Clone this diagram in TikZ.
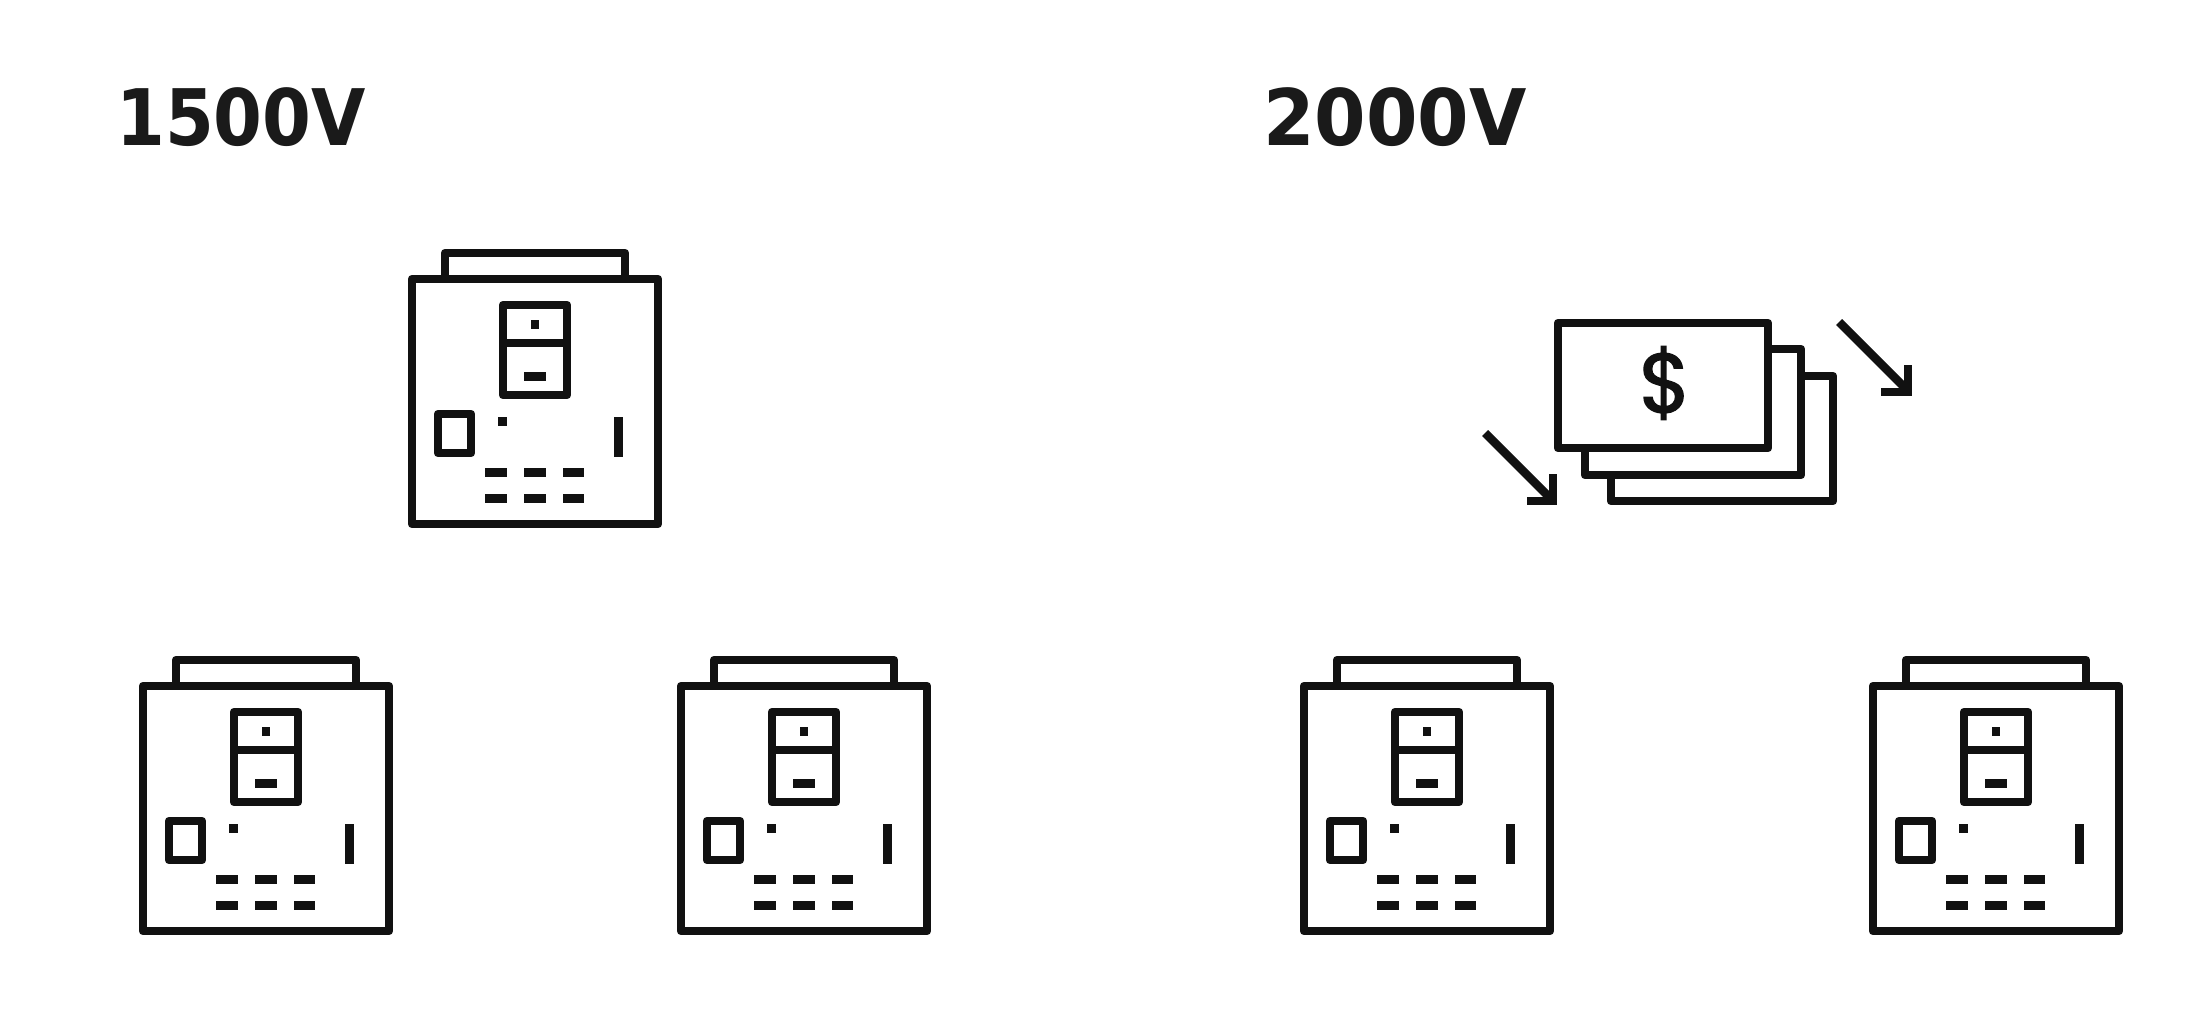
\documentclass[tikz,border=0pt]{standalone}
\usepackage{fontspec}
\setmainfont{DejaVu Sans}
\newfontfamily\dollarfont[FakeBold=1.6]{Poppins}
\definecolor{ink}{HTML}{1A1A1A}
\definecolor{iconink}{HTML}{111111}
\tikzset{
  x=1pt,y=-1pt,
  outline/.style={draw=iconink,line width=8.5pt,line join=round,fill=white},
  stroke/.style={draw=iconink,line width=8.5pt,line join=miter},
  solid block/.style={fill=iconink,draw=none},
  title/.style={inner sep=0pt,anchor=base west,text=ink,font=\fontsize{78}{78}\selectfont\bfseries},
  pics/charger/.style={code={
    \draw[outline] (33,0) -- (33,-26) -- (213,-26) -- (213,0);
    \draw[outline] (0,0) rectangle (246,245);
    \draw[outline] (91,26) rectangle (155,116);
    \draw[stroke] (91,64) -- (155,64);
    \fill[solid block] (119,41) rectangle (127,50);
    \fill[solid block] (112,93) rectangle (134,102);
    \draw[outline] (26,135) rectangle (59,174);
    \fill[solid block] (86,138) rectangle (95,147);
    \fill[solid block] (202,138) rectangle (211,178);
    \foreach \ya/\yb in {189/198,215/224}{
      \fill[solid block] (73,\ya) rectangle (95,\yb);
      \fill[solid block] (112,\ya) rectangle (134,\yb);
      \fill[solid block] (151,\ya) rectangle (172,\yb);
    }
  }}
}
\begin{document}
\begin{tikzpicture}
\useasboundingbox (0,0) rectangle (2200,1020);
\node[title,xscale=.90] (t1) at (116,145) {1500V};
\node[title,xscale=.95] (t2) at (1263,145) {2000V};
\pic at (412,279) {charger};
\pic at (143,686) {charger};
\pic at (681,686) {charger};
\pic at (1304,686) {charger};
\pic at (1873,686) {charger};
% money stack
\draw[outline] (1611,376) rectangle (1833,501);
\draw[outline] (1585,349) rectangle (1801,475);
\draw[outline] (1558,323) rectangle (1768,448);
\node[inner sep=0pt,text=iconink,font=\dollarfont\fontsize{84}{84}\selectfont] (dollar) at (1665,383) {\$};
% arrows
\coordinate (a1s) at (1839,322); \coordinate (a1e) at (1905,388);
\coordinate (a2s) at (1485,433); \coordinate (a2e) at (1550,498);
\draw[stroke] (a1s) -- (a1e);
\draw[stroke] (1908,365) -- (1908,392) -- (1881,392);
\draw[stroke] (a2s) -- (a2e);
\draw[stroke] (1553,474) -- (1553,501) -- (1527,501);
\end{tikzpicture}
\end{document}
